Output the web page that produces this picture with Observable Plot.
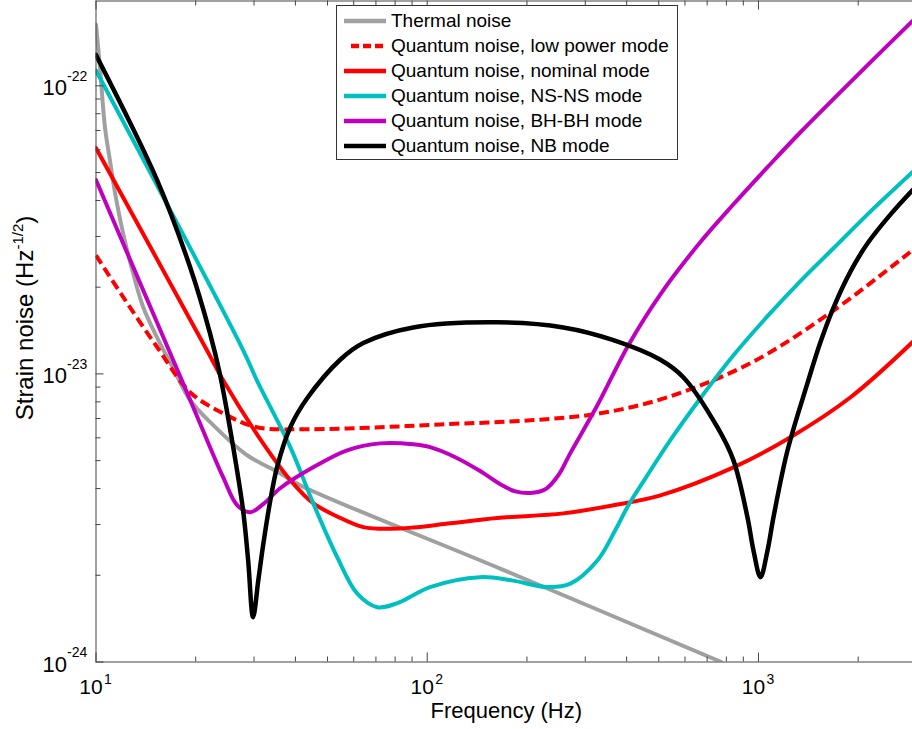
<!DOCTYPE html>
<html>
<head>
<meta charset="utf-8">
<script src="https://cdn.jsdelivr.net/npm/d3@7"></script>
<script src="https://cdn.jsdelivr.net/npm/@observablehq/plot@0.6"></script>
<style>
  html, body { margin: 0; padding: 0; background: #fff; overflow: hidden; }
  #wrap { position: relative; width: 912px; height: 729px; overflow: hidden; }
  #legend {
    position: absolute; left: 336px; top: 5px; width: 342px; height: 155px;
    box-sizing: border-box; border: 1px solid #333; background: #fff;
    font-family: "Liberation Sans", Arial, sans-serif; font-size: 19px; color: #000;
    padding-top: 2px;
  }
  .row { height: 25px; display: flex; align-items: center; }
  .row svg { margin-left: 6px; margin-right: 5px; flex: none; }
</style>
</head>
<body>
<div id="wrap"><div id="legend"></div></div>
<script>
// ---- data (frequency in Hz, strain noise in Hz^-1/2) ----
const thermalFreq  = [10, 10.28, 10.64, 11.02, 11.42, 12.07, 12.94, 13.87, 15.28, 17.08, 19.24, 22.6, 28.6, 35.97, 41.3, 166, 772.7];
const thermalNoise = [1.63e-22, 1.16e-22, 7.2e-23, 5.5e-23, 4.24e-23, 3.08e-23, 2.24e-23, 1.71e-23, 1.34e-23, 1.05e-23, 8.1e-24, 6.64e-24, 5.22e-24, 4.52e-24, 4.11e-24, 2.11e-24, 1.0e-24];

const lowPowerFreq  = [10, 12.07, 15.29, 19.23, 24.2, 30.6, 43.4, 72.1, 109.5, 204.7, 333, 531, 946, 1685, 2920];
const lowPowerNoise = [2.58e-23, 1.85e-23, 1.24e-23, 8.64e-24, 7.30e-24, 6.53e-24, 6.43e-24, 6.53e-24, 6.68e-24, 6.90e-24, 7.30e-24, 8.30e-24, 1.09e-23, 1.66e-23, 2.69e-23];

const nominalFreq  = [10, 21.6, 24.2, 31.95, 38.6, 45.25, 53.5, 64.1, 77.3, 90.7, 117.3, 162.7, 257.5, 364.8, 505.8, 840.5, 1249, 1897, 2920];
const nominalNoise = [6.08e-23, 1.21e-23, 9.5e-24, 5.74e-24, 4.28e-24, 3.56e-24, 3.20e-24, 2.94e-24, 2.90e-24, 2.93e-24, 3.03e-24, 3.16e-24, 3.28e-24, 3.50e-24, 3.79e-24, 4.74e-24, 6.03e-24, 8.30e-24, 1.29e-23];

const nsnsFreq  = [10, 27.8, 30.6, 38.6, 45.25, 53.5, 61.4, 70.6, 81.2, 102, 144.5, 180, 230.4, 270.4, 326.3, 369.8, 404.8, 455.7, 542, 668, 840.5, 1065, 1339, 1685, 2135, 2920];
const nsnsNoise = [1.13e-22, 1.21e-23, 9.5e-24, 5.57e-24, 3.56e-24, 2.31e-24, 1.73e-24, 1.55e-24, 1.60e-24, 1.82e-24, 1.97e-24, 1.92e-24, 1.82e-24, 1.87e-24, 2.25e-24, 2.87e-24, 3.50e-24, 4.34e-24, 5.89e-24, 8.23e-24, 1.16e-23, 1.586e-23, 2.10e-23, 2.73e-23, 3.58e-23, 5.02e-23];

const bhbhFreq  = [10, 13.58, 18.31, 20.6, 24.2, 26.7, 29.2, 31.95, 35.97, 45.25, 57.3, 72.1, 90.7, 102, 121.5, 144.5, 166.1, 184.5, 204.7, 227.3, 248.8, 270.4, 326.3, 404.8, 505.8, 668, 840.5, 1065, 1339, 2135, 2920];
const bhbhNoise = [4.71e-23, 2.07e-23, 9.29e-24, 6.74e-24, 4.38e-24, 3.50e-24, 3.31e-24, 3.53e-24, 4.01e-24, 4.74e-24, 5.43e-24, 5.74e-24, 5.70e-24, 5.57e-24, 5.14e-24, 4.60e-24, 4.14e-24, 3.91e-24, 3.86e-24, 3.98e-24, 4.45e-24, 5.31e-24, 7.78e-24, 1.258e-23, 1.89e-23, 2.87e-23, 3.88e-23, 5.22e-23, 6.90e-23, 1.18e-22, 1.68e-22];

const nbFreq  = [10, 15.29, 19.23, 22.1, 23.7, 25.9, 27.8, 28.8, 29.8, 30.9, 31.95, 33.6, 35.2, 38.6, 43.4, 54.6, 64.1, 90.7, 162.7, 257.5, 364.8, 505.8, 593, 751.6, 840.5, 926.3, 966, 1014, 1065, 1110, 1224, 1406, 1539, 1685, 1897, 2135, 2505, 2920];
const nbNoise = [1.28e-22, 4.71e-23, 2.35e-23, 1.38e-23, 9.9e-24, 5.65e-24, 3.36e-24, 2.25e-24, 1.43e-24, 1.92e-24, 2.54e-24, 3.64e-24, 4.74e-24, 6.53e-24, 8.23e-24, 1.12e-23, 1.28e-23, 1.45e-23, 1.51e-23, 1.45e-23, 1.31e-23, 1.12e-23, 9.74e-24, 6.53e-24, 5.01e-24, 3.18e-24, 2.44e-24, 1.97e-24, 2.44e-24, 3.18e-24, 5.43e-24, 9.29e-24, 1.29e-23, 1.70e-23, 2.27e-23, 2.84e-23, 3.58e-23, 4.35e-23];

const seriesNames = ["Thermal noise", "Quantum noise, low power mode", "Quantum noise, nominal mode", "Quantum noise, NS-NS mode", "Quantum noise, BH-BH mode", "Quantum noise, NB mode"];

const xMajorTicks = [10, 100, 1000];
const xMajorExp = ["1", "2", "3"];
const xMinorTicks = [20, 30, 40, 50, 60, 70, 80, 90, 200, 300, 400, 500, 600, 700, 800, 900, 2000, 3000];
const yMajorTicks = [1e-24, 1e-23, 1e-22];
const yMajorExp = ["-24", "-23", "-22"];
const yMinorTicks = [2e-24, 3e-24, 4e-24, 5e-24, 6e-24, 7e-24, 8e-24, 9e-24, 2e-23, 3e-23, 4e-23, 5e-23, 6e-23, 7e-23, 8e-23, 9e-23];

// ---- styles ----
const styles = [
  {stroke: "#a0a0a0", width: 4, dash: null},
  {stroke: "#ff0000", width: 4, dash: "10,5"},
  {stroke: "#ff0000", width: 4, dash: null},
  {stroke: "#00bfbf", width: 4, dash: null},
  {stroke: "#bf00bf", width: 4, dash: null},
  {stroke: "#000000", width: 4.5, dash: null}
];

const toRows = (freq, noise) => freq.map((f, i) => ({f, v: noise[i]}));
const seriesData = [
  toRows(thermalFreq, thermalNoise),
  toRows(lowPowerFreq, lowPowerNoise),
  toRows(nominalFreq, nominalNoise),
  toRows(nsnsFreq, nsnsNoise),
  toRows(bhbhFreq, bhbhNoise),
  toRows(nbFreq, nbNoise)
];

const W = 912, H = 729, mL = 95.5, mR = -4, mT = 0.5, mB = 67.5;
const plotW = W - mL - mR, plotH = H - mT - mB;
const axisColor = "#444";
const font = "'Liberation Sans', Arial, sans-serif";

const lineMarks = seriesData.map((d, i) => Plot.line(d, {
  x: "f", y: "v", stroke: styles[i].stroke, strokeWidth: styles[i].width,
  strokeDasharray: styles[i].dash, curve: "catmull-rom", clip: true,
  strokeLinejoin: "round", strokeLinecap: styles[i].dash ? "butt" : "round"
}));

const chart = Plot.plot({
  width: W, height: H,
  marginLeft: mL, marginRight: mR, marginTop: mT, marginBottom: mB,
  x: {type: "log", domain: [10, 3000], axis: null},
  y: {type: "log", domain: [1e-24, 1.97e-22], axis: null},
  style: {fontFamily: font, background: "transparent", overflow: "hidden"},
  marks: [
    ...lineMarks,
    // ticks pointing inward, bottom & top
    Plot.tickX(xMinorTicks, {x: d => d, insetTop: plotH - 5, stroke: axisColor}),
    Plot.tickX(xMajorTicks, {x: d => d, insetTop: plotH - 9, stroke: axisColor}),
    Plot.tickX(xMinorTicks, {x: d => d, insetBottom: plotH - 5, stroke: axisColor}),
    Plot.tickX(xMajorTicks, {x: d => d, insetBottom: plotH - 9, stroke: axisColor}),
    // left ticks
    Plot.tickY(yMinorTicks, {y: d => d, insetRight: plotW - 5, stroke: axisColor}),
    Plot.tickY(yMajorTicks, {y: d => d, insetRight: plotW - 8, stroke: axisColor}),
    Plot.frame({stroke: axisColor, strokeWidth: 1}),
    // x tick labels 10^n
    Plot.text(xMajorTicks, {x: d => d, frameAnchor: "bottom", text: () => "10", textAnchor: "middle",
      lineAnchor: "bottom", dx: -5, dy: 32, fontSize: 21, fill: "#000", ariaLabel: "xbase"}),
    Plot.text(xMajorTicks, {x: d => d, frameAnchor: "bottom", text: (d, i) => xMajorExp[i], textAnchor: "start",
      lineAnchor: "bottom", dx: 8, dy: 22, fontSize: 14, fill: "#000", ariaLabel: "xexp"}),
    // y tick labels 10^n
    Plot.text(yMajorTicks, {y: d => d, frameAnchor: "left", text: () => "10", textAnchor: "end",
      lineAnchor: "bottom", dx: -29, dy: 9.5, fontSize: 22, fill: "#000", ariaLabel: "ybase"}),
    Plot.text(yMajorTicks, {y: d => d, frameAnchor: "left", text: (d, i) => yMajorExp[i], textAnchor: "start",
      lineAnchor: "bottom", dx: -29, dy: -5, fontSize: 14, fill: "#000", ariaLabel: "yexp"}),
    // x axis title
    Plot.text(["Frequency (Hz)"], {frameAnchor: "bottom", text: d => d, textAnchor: "middle",
      lineAnchor: "bottom", dy: 56, fontSize: 22, fill: "#000"})
  ]
});

// vertical stretch of tick labels, as in the reference
d3.select(chart).selectAll('g[aria-label="xbase"] text, g[aria-label="xexp"] text')
  .attr("transform", function() { return (this.getAttribute("transform") || "") + " scale(1,1.35)"; });
d3.select(chart).selectAll('g[aria-label="ybase"] text, g[aria-label="yexp"] text')
  .attr("transform", function() { return (this.getAttribute("transform") || "") + " scale(1,1.1)"; });

// y axis title with superscript
const yt = d3.select(chart).append("text")
  .attr("transform", "translate(33,318) rotate(-90)")
  .attr("text-anchor", "middle")
  .attr("font-family", font)
  .attr("font-size", 24)
  .attr("fill", "#000");
yt.append("tspan").text("Strain noise (Hz");
yt.append("tspan").attr("font-size", 15).attr("dy", -10).text("-1/2");
yt.append("tspan").attr("dy", 10).text(")");

const wrap = document.getElementById("wrap");
wrap.insertBefore(chart, wrap.firstChild);

// legend
const legend = d3.select("#legend");
seriesNames.forEach((name, i) => {
  const row = legend.append("div").attr("class", "row");
  const sw = row.append("svg").attr("width", 43).attr("height", 8);
  sw.append("line").attr("x1", i === 1 ? 8 : 1).attr("x2", 43).attr("y1", 4).attr("y2", 4)
    .attr("stroke", styles[i].stroke).attr("stroke-width", 4.5)
    .attr("stroke-dasharray", styles[i].dash ? "8,4" : null);
  row.append("span").text(name);
});
</script>
</body>
</html>
